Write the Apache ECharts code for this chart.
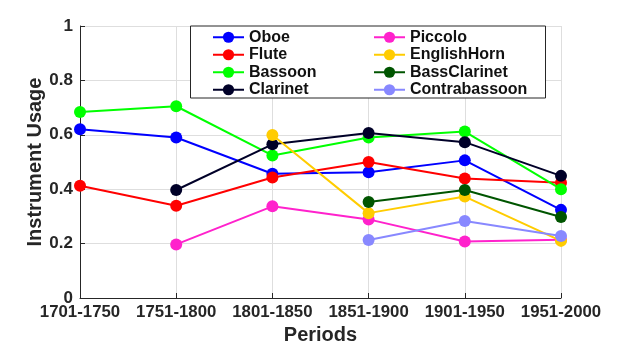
<!DOCTYPE html>
<html>
<head>
<meta charset="utf-8">
<script src="https://cdn.jsdelivr.net/npm/echarts@6/dist/echarts.min.js"></script>
<style>
  html, body { margin: 0; padding: 0; background: #fff; }
  #chart { width: 620px; height: 345px; }
</style>
</head>
<body>
<div id="chart"></div>
<script>
// Periods on the x axis
const periods = ['1701-1750', '1751-1800', '1801-1850', '1851-1900', '1901-1950', '1951-2000'];
const yTicks = [0, 0.2, 0.4, 0.6, 0.8, 1];

// Usage per instrument (null where the instrument is absent)
const oboe          = [0.62, 0.59, 0.457, 0.462, 0.506, 0.324];
const flute         = [0.413, 0.339, 0.443, 0.50, 0.439, 0.424];
const bassoon       = [0.684, 0.705, 0.524, 0.59, 0.612, 0.40];
const clarinet      = [null, 0.397, 0.565, 0.607, 0.573, 0.449];
const piccolo       = [null, 0.197, 0.337, 0.289, 0.208, 0.214];
const englishHorn   = [null, null, 0.599, 0.312, 0.373, 0.21];
const bassClarinet  = [null, null, null, 0.353, 0.397, 0.298];
const contrabassoon = [null, null, null, 0.213, 0.283, 0.228];

const names  = ['Oboe', 'Flute', 'Bassoon', 'Clarinet', 'Piccolo', 'EnglishHorn', 'BassClarinet', 'Contrabassoon'];
const values = [oboe, flute, bassoon, clarinet, piccolo, englishHorn, bassClarinet, contrabassoon];
const colors = ['#0000ff', '#ff0000', '#00ff00', '#000028', '#ff22cc', '#ffcc00', '#005500', '#8888ff'];

const font = 'Liberation Sans, Arial, Helvetica, sans-serif';
const ink = '#262626';

const series = names.map((n, i) => ({
  name: n,
  type: 'line',
  data: values[i],
  symbol: 'circle',
  symbolSize: 12,
  showAllSymbol: true,
  lineStyle: { width: 2, color: colors[i] },
  itemStyle: { color: colors[i] },
  emphasis: { disabled: true },
  z: 2 + i
}));

const legendBase = {
  orient: 'vertical',
  top: 28.5,
  itemWidth: 31,
  itemHeight: 14,
  itemGap: 0,
  padding: 0,
  z: 60,
  textStyle: { fontFamily: font, fontWeight: 'bold', fontSize: 16, lineHeight: 17.5, color: '#111', padding: [0, 0, 0, 0] },
  selectedMode: false
};

const chart = echarts.init(document.getElementById('chart'), null, { renderer: 'canvas' });
chart.setOption({
  animation: false,
  backgroundColor: '#ffffff',
  grid: { left: 80, right: 59, top: 26, bottom: 47, outerBoundsMode: 'none', containLabel: false },
  legend: [
    Object.assign({}, legendBase, { left: 212, data: names.slice(0, 4) }),
    Object.assign({}, legendBase, { left: 373, data: names.slice(4) })
  ],
  graphic: [{
    type: 'rect',
    left: 190, top: 25.5,
    shape: { width: 355, height: 72 },
    style: { fill: '#fff', stroke: '#262626', lineWidth: 1 },
    z: 50
  }],
  xAxis: {
    type: 'category',
    data: periods,
    boundaryGap: false,
    name: 'Periods',
    nameLocation: 'middle',
    nameGap: 27,
    nameMoveOverlap: false,
    nameTextStyle: { fontFamily: font, fontWeight: 'bold', fontSize: 20, color: ink },
    axisLine: { lineStyle: { color: ink, width: 1 } },
    axisTick: { show: true, inside: true, length: 5, interval: 0, lineStyle: { color: ink } },
    axisLabel: { interval: 0, fontFamily: font, fontWeight: 'bold', fontSize: 16.8, color: ink, margin: 6 },
    splitLine: { show: true, interval: 0, lineStyle: { color: '#dedede', width: 1 } }
  },
  yAxis: {
    type: 'value',
    min: yTicks[0],
    max: yTicks[yTicks.length - 1],
    interval: 0.2,
    name: 'Instrument Usage',
    nameLocation: 'middle',
    nameGap: 35,
    nameMoveOverlap: false,
    nameTextStyle: { fontFamily: font, fontWeight: 'bold', fontSize: 20, color: ink },
    axisLine: { show: true, lineStyle: { color: ink, width: 1 } },
    axisTick: { show: true, inside: true, length: 5, lineStyle: { color: ink } },
    axisLabel: { fontFamily: font, fontWeight: 'bold', fontSize: 17, color: ink, margin: 7 },
    splitLine: { show: true, lineStyle: { color: '#dedede', width: 1 } }
  },
  series: series
});
</script>
</body>
</html>
